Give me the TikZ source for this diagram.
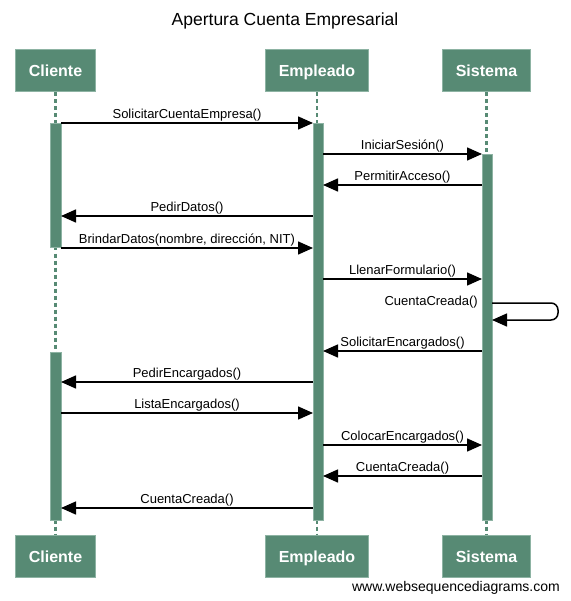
\documentclass[tikz,border=0pt]{standalone}
\usepackage{fontspec}
\setmainfont{Liberation Sans}
\usetikzlibrary{arrows.meta}
\definecolor{wsdgreen}{HTML}{578A74}
\definecolor{wsdedge}{HTML}{8DB3A3}
\tikzset{
actor/.style={rectangle, fill=wsdgreen, draw=wsdedge, line width=1pt, text=white,
  font=\fontsize{16}{19}\selectfont\bfseries, minimum height=42pt, inner xsep=13.5pt,
  text height=13pt, text depth=1pt},
lifeline/.style={wsdgreen, line width=2.5pt, dash pattern=on 4pt off 3pt},
bar/.style={fill=wsdgreen, draw=wsdedge, line width=0.8pt},
msg/.style={line width=1.5pt, -{Triangle[length=15pt,width=13pt]}},
lbl/.style={font=\fontsize{13}{15}\selectfont, inner sep=1pt}
}

\begin{document}
\begin{tikzpicture}[x=1pt,y=-1pt]
\useasboundingbox (0,0) rectangle (570,601);

\node[font=\fontsize{17.5}{20}\selectfont] (title) at (285,21) {Apertura Cuenta Empresarial};

% participants
\node[actor] (cliT) at (55.5,71) {Cliente};
\node[actor] (empT) at (317,71) {Empleado};
\node[actor] (sisT) at (486.5,71) {Sistema};
\node[actor] (cliB) at (55.5,556) {Cliente};
\node[actor] (empB) at (317,556) {Empleado};
\node[actor] (sisB) at (486.5,556) {Sistema};

\draw[lifeline] (cliT) -- (cliB);
\draw[lifeline] (empT) -- (empB);
\draw[lifeline] (sisT) -- (sisB);

% activations
\draw[bar] (50,123) rectangle (61,247);
\draw[bar] (50,352) rectangle (61,520);
\draw[bar] (313,123) rectangle (323,520);
\draw[bar] (482,154) rectangle (492,520);

% message ends
\coordinate (c1) at (61,123);  \coordinate (e1) at (313,123);
\coordinate (e2) at (323,154); \coordinate (s2) at (482,154);
\coordinate (s3) at (482,185); \coordinate (e3) at (323,185);
\coordinate (e4) at (313,216); \coordinate (c4) at (61,216);
\coordinate (c5) at (61,248);  \coordinate (e5) at (313,248);
\coordinate (e6) at (323,279); \coordinate (s6) at (482,279);
\coordinate (s7) at (492,303); \coordinate (s7r) at (492,320);
\coordinate (s8) at (482,351); \coordinate (e8) at (323,351);
\coordinate (e9) at (313,382); \coordinate (c9) at (61,382);
\coordinate (c10) at (61,413); \coordinate (e10) at (313,413);
\coordinate (e11) at (323,445); \coordinate (s11) at (482,445);
\coordinate (s12) at (482,476); \coordinate (e12) at (323,476);
\coordinate (e13) at (313,508); \coordinate (c13) at (61,508);

\draw[msg] (c1) --node[midway,above,lbl] {SolicitarCuentaEmpresa()} (e1);
\draw[msg] (e2) --node[midway,above,lbl] {IniciarSesión()} (s2);
\draw[msg] (s3) --node[midway,above,lbl] {PermitirAcceso()} (e3);
\draw[msg] (e4) --node[midway,above,lbl] {PedirDatos()} (c4);
\draw[msg] (c5) --node[midway,above,lbl] {BrindarDatos(nombre, dirección, NIT)} (e5);
\draw[msg] (e6) --node[midway,above,lbl] {LlenarFormulario()} (s6);
\draw[msg, rounded corners=7pt] (s7) -- ++(66,0) -- ++(0,17) -- (s7r);
\node[lbl, anchor=east] (self) at (479,302) {CuentaCreada()};
\draw[msg] (s8) --node[midway,above,lbl] {SolicitarEncargados()} (e8);
\draw[msg] (e9) --node[midway,above,lbl] {PedirEncargados()} (c9);
\draw[msg] (c10) --node[midway,above,lbl] {ListaEncargados()} (e10);
\draw[msg] (e11) --node[midway,above,lbl] {ColocarEncargados()} (s11);
\draw[msg] (s12) --node[midway,above,lbl] {CuentaCreada()} (e12);
\draw[msg] (e13) --node[midway,above,lbl] {CuentaCreada()} (c13);

\node[anchor=base east, font=\fontsize{14}{16}\selectfont, inner sep=0pt] (site) at (560,591) {www.websequencediagrams.com};

\end{tikzpicture}
\end{document}
